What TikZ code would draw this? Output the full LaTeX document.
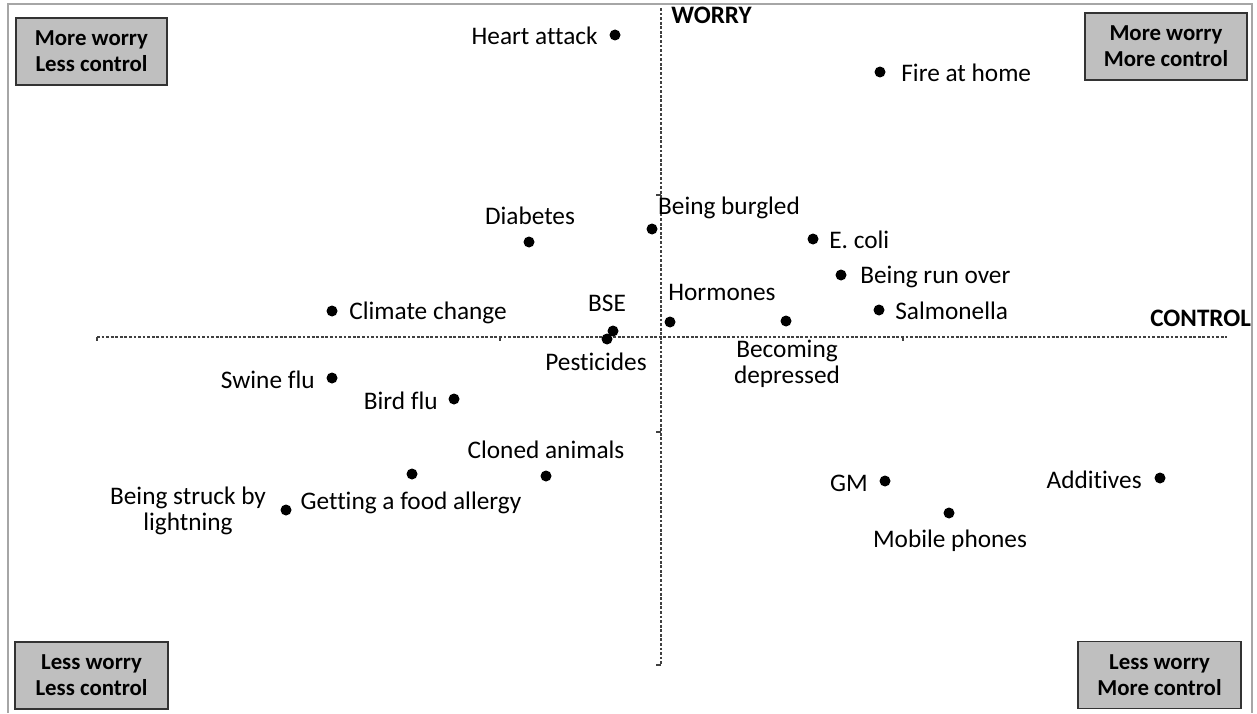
\documentclass[tikz,border=0pt]{standalone}
\usepackage{fontspec}
\setmainfont[Ligatures={NoCommon}]{Carlito}
\usetikzlibrary{positioning}

\tikzset{
  dot/.style={circle, fill=black, inner sep=0pt, minimum size=0.22cm},
  lbl/.style={inner sep=0pt, font=\fontsize{14.4}{14.7}\selectfont, align=center},
  axlbl/.style={inner sep=0pt, font=\bfseries\fontsize{14.3}{17}\selectfont},
  quad/.style={draw=black!80, line width=0.9pt, fill=black!25, align=center,
    minimum height=1.34cm, inner sep=0pt, font=\bfseries\fontsize{13}{14.7}\selectfont},
  axis/.style={black!75, line width=0.6pt, dash pattern=on 1.6pt off 1pt}
}

\begin{document}
\begin{tikzpicture}[x=0.02cm, y=-0.02cm]
\useasboundingbox (0,0) rectangle (1257,713);
% рамка
\draw [black!35, line width=0.8pt] (8,713) -- (8,4) -- (1252,4) -- (1252,713);
% оси
\draw [axis] (97,337) -- (1227,337);
\draw [axis] (661,8) -- (661,665);
\foreach \xt in {97,500,903} \draw [black!75, line width=0.6pt] (\xt,337) -- (\xt,341);
\foreach \yt in {195,432,665} \draw [black!75, line width=0.6pt] (661,\yt) -- (656,\yt);
\node [axlbl, anchor=west] (worry) at (671,15) {WORRY};
\node [axlbl, anchor=west] (control) at (1150,318) {CONTROL};
% квадранты
\node [quad, minimum width=3.02cm] (mwlc) at (91.5,51.5) {More worry\\Less control};
\node [quad, minimum width=3.24cm] (mwmc) at (1166,46.5) {More worry\\More control};
\node [quad, minimum width=3.06cm] (lwlc) at (91.5,675.5) {Less worry\\Less control};
\node [quad, minimum width=3.26cm] (lwmc) at (1159.5,675) {Less worry\\More control};
% точки
\node [dot] (heart) at (615,35) {};
\node [dot] (fire) at (880,72) {};
\node [dot] (diab) at (529,242) {};
\node [dot] (burgl) at (652,229) {};
\node [dot] (ecoli) at (813,239) {};
\node [dot] (runover) at (841,275) {};
\node [dot] (salmo) at (879,310) {};
\node [dot] (climate) at (332,311) {};
\node [dot] (bse) at (613,331) {};
\node [dot] (pest) at (607,339) {};
\node [dot] (horm) at (670,322) {};
\node [dot] (depr) at (786,321) {};
\node [dot] (swine) at (332,378) {};
\node [dot] (bird) at (454,399) {};
\node [dot] (cloned) at (546,476) {};
\node [dot] (allergy) at (412,474) {};
\node [dot] (lightn) at (286,510) {};
\node [dot] (gm) at (885,481) {};
\node [dot] (mobile) at (949,513) {};
\node [dot] (addit) at (1160,478) {};
% подписи
\node [lbl, anchor=east] (heart-l) at (598,36) {Heart attack};
\node [lbl, anchor=west] (fire-l) at (901,73) {Fire at home};
\node [lbl] (diab-l) at (530,216) {Diabetes};
\node [lbl] (burgl-l) at (729,208) {Being burgled};
\node [lbl, anchor=west] (ecoli-l) at (829,240) {E. coli};
\node [lbl, anchor=west] (runover-l) at (860,277) {Being run over};
\node [lbl, anchor=west] (salmo-l) at (895,311) {Salmonella};
\node [lbl, anchor=west] (climate-l) at (349,313) {Climate change};
\node [lbl] (bse-l) at (607,303) {BSE};
\node [lbl] (pest-l) at (596,362) {Pesticides};
\node [lbl] (horm-l) at (722,292) {Hormones};
\node [lbl] (depr-l) at (787,364) {Becoming\\depressed};
\node [lbl, anchor=east] (swine-l) at (315,380) {Swine flu};
\node [lbl, anchor=east] (bird-l) at (438,401) {Bird flu};
\node [lbl] (cloned-l) at (546,450) {Cloned animals};
\node [lbl] (allergy-l) at (411,503) {Getting a food allergy};
\node [lbl] (lightn-l) at (188,511) {Being struck by\\lightning};
\node [lbl, anchor=east] (gm-l) at (868,483) {GM};
\node [lbl] (mobile-l) at (950,541) {Mobile phones};
\node [lbl, anchor=east] (addit-l) at (1142,480) {Additives};
\end{tikzpicture}
\end{document}
